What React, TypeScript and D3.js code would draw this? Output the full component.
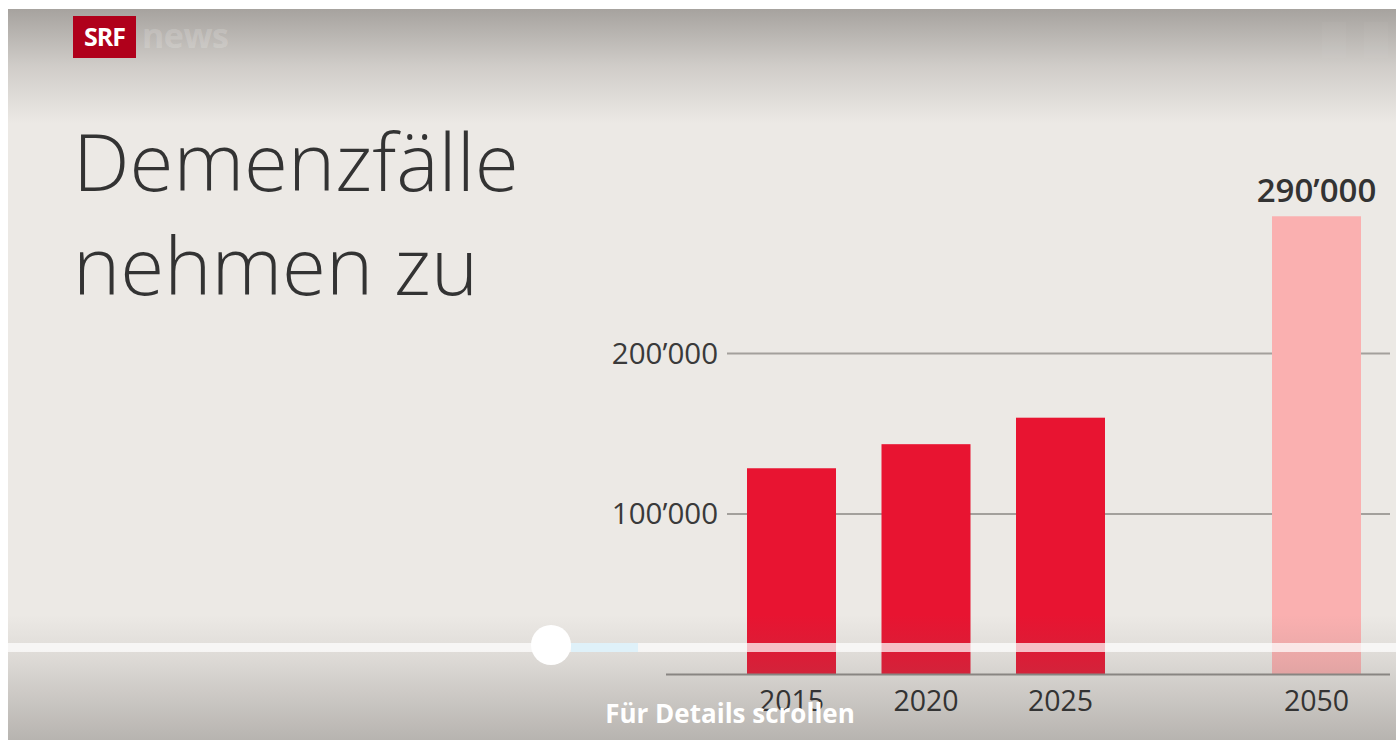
import React from "react";
import * as d3 from "d3";

const years = [2015, 2020, 2025, 2050];
const cases = [128500, 143500, 160000, 285500];
const projected = [false, false, false, true];
const yTicks = [100000, 200000];
const titleLines = ["Demenzfälle", "nehmen zu"];
const scrollHint = "Für Details scrollen";

const W = 1396;
const H = 740;

const locale = d3.formatLocale({ decimal: ".", thousands: "\u2019", grouping: [3], currency: ["", ""] });
const fmt = locale.format(",");

export default function App() {
  const x = d3.scaleLinear().domain([2015, 2025, 2050]).range([791.5, 1060.5, 1316.5]);
  const y = d3.scaleLinear().domain([0, 200000]).range([674.5, 353.5]);
  const barW = 89;
  const font = "'Open Sans', sans-serif";
  const text = "#333333";

  return (
    <svg width={W} height={H} style={{ position: "absolute", left: 0, top: 0, display: "block" }}>
      <defs>
        <linearGradient id="topG" x1="0" y1="0" x2="0" y2="1">
          <stop offset="0" stopColor="#8f8b87" stopOpacity="0.75" />
          <stop offset="0.5" stopColor="#8f8b87" stopOpacity="0.3" />
          <stop offset="1" stopColor="#8f8b87" stopOpacity="0" />
        </linearGradient>
        <linearGradient id="botG" x1="0" y1="0" x2="0" y2="1">
          <stop offset="0" stopColor="#6e6a66" stopOpacity="0" />
          <stop offset="0.35" stopColor="#6e6a66" stopOpacity="0.12" />
          <stop offset="1" stopColor="#6e6a66" stopOpacity="0.42" />
        </linearGradient>
      </defs>
      <rect x={0} y={0} width={W} height={H} fill="#ffffff" />
      <rect x={8} y={9} width={W - 8} height={H - 9} fill="#ece9e5" />

      {/* gridlines */}
      {yTicks.map((t) => (
        <g key={t}>
          <line x1={727} x2={1390} y1={y(t)} y2={y(t)} stroke="#a3a09c" strokeWidth={2} />
          <text x={718} y={y(t)} dy="0.35em" textAnchor="end" fontFamily={font} fontSize={29.5} fill="#3a3a3a">
            {fmt(t)}
          </text>
        </g>
      ))}

      {/* bars */}
      {years.map((yr, i) => (
        <rect
          key={yr}
          x={x(yr) - barW / 2}
          y={y(cases[i])}
          width={barW}
          height={y(0) - y(cases[i])}
          fill={projected[i] ? "#fab0b0" : "#e81431"}
        />
      ))}

      {/* value label on projected bar */}
      {years.map((yr, i) =>
        projected[i] ? (
          <text key={"v" + yr} x={x(yr)} y={y(cases[i]) - 14} textAnchor="middle" fontFamily={font} fontSize={33} fontWeight={600} fill={text}>
            {fmt(Math.round(cases[i] / 10000) * 10000)}
          </text>
        ) : null
      )}

      {/* baseline */}
      <line x1={666} x2={1390} y1={y(0)} y2={y(0)} stroke="#8e8b88" strokeWidth={2} />

      {/* title */}
      {titleLines.map((l, i) => (
        <text key={l} x={73} y={191 + i * 104} fontFamily={font} fontWeight={300} fontSize={80} fill={text}>
          {l}
        </text>
      ))}

      {/* top gradient */}
      <rect x={8} y={9} width={W - 8} height={115} fill="url(#topG)" />
      {/* bottom gradient */}
      <rect x={8} y={615} width={W - 8} height={125} fill="url(#botG)" />

      {/* logo */}
      <rect x={73} y={16} width={63} height={42} fill="#b0001b" />
      <text x={104.5} y={46} textAnchor="middle" fontFamily={font} fontWeight={700} fontSize={25} fill="#ffffff" letterSpacing={-1}>
        SRF
      </text>
      <text x={142} y={48} fontFamily={font} fontWeight={700} fontSize={34} fill="#ffffff" fillOpacity={0.18} letterSpacing={-0.5}>
        news
      </text>
      <rect x={1322} y={22} width={24} height={36} fill="#ffffff" fillOpacity={0.03} />
      <rect x={1364} y={22} width={24} height={36} fill="#ffffff" fillOpacity={0.03} />

      {/* x labels */}
      {years.map((yr) => (
        <text key={"x" + yr} x={x(yr)} y={711} textAnchor="middle" fontFamily={font} fontSize={28.5} fill={text}>
          {yr}
        </text>
      ))}

      {/* slider */}
      <line x1={8} x2={W} y1={647.5} y2={647.5} stroke="#ffffff" strokeOpacity={0.72} strokeWidth={9} />
      <line x1={571} x2={638} y1={647.5} y2={647.5} stroke="#dff1f9" strokeWidth={9} />
      <circle cx={551} cy={645} r={20} fill="#ffffff" />

      <text x={730} y={723} textAnchor="middle" fontFamily={font} fontWeight={700} fontSize={26} fill="#ffffff">
        {scrollHint}
      </text>
    </svg>
  );
}
